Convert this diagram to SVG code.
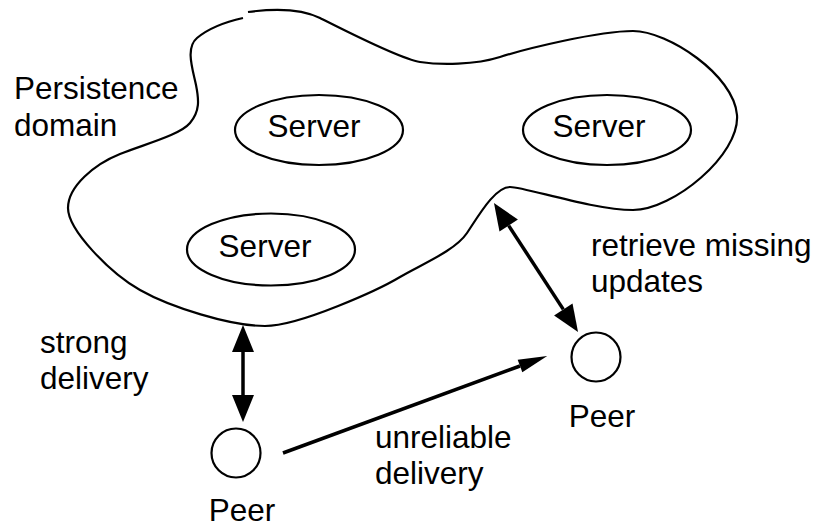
<svg xmlns="http://www.w3.org/2000/svg" width="818" height="527" viewBox="0 0 818 527">
<style>
text{font-family:"Liberation Sans",Arial,sans-serif;font-size:31.5px;fill:#000}
.shape{fill:none;stroke:#000;stroke-width:2.2}
.conn{fill:none;stroke:#000;stroke-width:3.5}
</style>
<defs>
<marker id="big" markerUnits="userSpaceOnUse" markerWidth="28" markerHeight="24" refX="0" refY="11" orient="auto-start-reverse" viewBox="0 0 28 22" overflow="visible">
<path d="M0,0 L27,11 L0,22 z" fill="#000"/>
</marker>
<marker id="slim" markerUnits="userSpaceOnUse" markerWidth="30" markerHeight="14" refX="0" refY="6.5" orient="auto" viewBox="0 0 29 13" overflow="visible">
<path d="M0,0 L28,6.5 L0,13 z" fill="#000"/>
</marker>
</defs>
<g id="domain">
<path class="shape" d="M248,12 C270,9 298,7 320,18 C342,29 400,59 420,62 C440,65 475,65 500,57 C525,49 598,31 633,31 C668,31 734,75 737,115 C740,155 673,210 633,210 C593,210 525,187 510,187 C495,187 479,215 467,233 C455,251 420,265 400,277 C380,289 300,326 265,326 C230,326 170,307 140,290 C110,273 68,230 68,208 C68,186 95,164 120,154 C145,144 180,135 190,123 C200,111 199,100 196,85 C193,70 185,48 197,38 C209,28 225,22 243,18"/>
<text x="14" y="99">Persistence</text>
<text x="14" y="136">domain</text>
</g>
<g id="server1">
<ellipse class="shape" cx="319" cy="130" rx="84" ry="35"/>
<text x="314" y="137" text-anchor="middle">Server</text>
</g>
<g id="server2">
<ellipse class="shape" cx="607" cy="130" rx="84" ry="35"/>
<text x="599" y="137" text-anchor="middle">Server</text>
</g>
<g id="server3">
<ellipse class="shape" cx="271" cy="249.5" rx="84" ry="36"/>
<text x="265" y="257" text-anchor="middle">Server</text>
</g>
<g id="peer1">
<circle class="shape" cx="236" cy="453" r="24.5"/>
<text x="242" y="521" text-anchor="middle">Peer</text>
</g>
<g id="peer2">
<circle class="shape" cx="596" cy="357" r="24.5"/>
<text x="602" y="427" text-anchor="middle">Peer</text>
</g>
<g id="connectors">
<path class="conn" d="M243,352 L243,395" marker-start="url(#big)" marker-end="url(#big)"/>
<path class="conn" d="M508.7,225.6 L563.3,309.4" marker-start="url(#big)" marker-end="url(#big)"/>
<path class="conn" d="M283,453 L520,366" marker-end="url(#slim)"/>
<text x="40" y="353">strong</text>
<text x="40" y="389">delivery</text>
<text x="591" y="256">retrieve missing</text>
<text x="591" y="292">updates</text>
<text x="375" y="448">unreliable</text>
<text x="375" y="484">delivery</text>
</g>
</svg>
